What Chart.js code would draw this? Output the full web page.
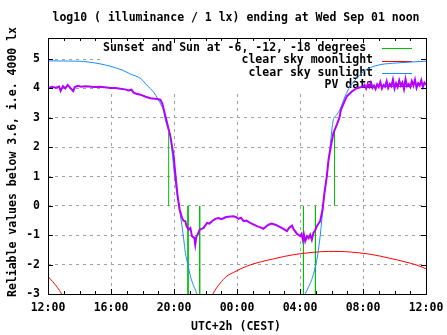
<!DOCTYPE html>
<html lang="en">
<head>
    <meta charset="UTF-8">
    <title>log10 illuminance</title>
    <script src="https://cdn.jsdelivr.net/npm/chart.js"></script>
    <style>
        body { margin: 0; background: #fff; }
        #wrap { width: 447px; height: 335px; }
    </style>
</head>
<body>
    <div id="wrap"><canvas id="myChart" width="447" height="335"></canvas></div>

    <script>
        // x values are hours after 12:00 (Tue noon .. Wed noon)
        const xTickLabels = ['12:00', '16:00', '20:00', '00:00', '04:00', '08:00', '12:00'];
        const seriesNames = ['Sunset and Sun at -6, -12, -18 degrees ', 'clear sky moonlight', 'clear sky sunlight', 'PV data'];

        // green markers: hour, bottom, top
        const sunsetHours = [7.66, 8.89, 9.63, 16.22, 16.98, 18.19];
        const sunsetTops = [2.5, -3, -3, -3, -3, 2.6];

        const sunHours = [0, 1.9, 2.6, 3.3, 4.0, 4.7, 5.2, 5.9, 6.3, 6.7, 7.0, 7.2, 7.34, 7.45, 7.6, 7.77, 7.9, 7.98, 8.1, 8.29, 8.4, 8.51, 8.62, 8.72, 8.88, 9.04, 9.23, 9.42, 9.6,
            12,
            16.1, 16.33, 16.55, 16.75, 17.07, 17.28, 17.49, 17.7, 17.91, 18.12, 18.3, 18.55, 18.85, 19.18, 19.6, 20.03, 20.5, 21.08, 22.14, 23.0, 24];
        const sunValues = [4.94, 4.93, 4.9, 4.84, 4.75, 4.63, 4.5, 4.33, 4.1, 3.88, 3.62, 3.42, 3.25, 2.94, 2.66, 2.37, 1.75, 1.3, 0.75, 0.11, -0.3, -0.69, -1.15, -1.59, -2.0, -2.39, -2.7, -2.95, -3.3,
            null,
            -3.3, -3.0, -2.75, -2.5, -1.83, -1.03, 0.1, 1.0, 2.03, 2.94, 3.08, 3.3, 3.72, 4.07, 4.35, 4.58, 4.72, 4.81, 4.87, 4.9, 4.93];

        const moonHours = [0, 0.3, 0.6, 0.86, 1.1, 5, 10.2, 10.5, 10.9, 11.36, 11.8, 12.2, 13.0, 14.1, 15.0, 15.6, 16.85, 17.8, 18.55, 19.2, 19.8, 20.5, 21.1, 22.1, 23.0, 23.5, 24];
        const moonValues = [-2.41, -2.58, -2.78, -3.0, -3.3, null, -3.3, -2.97, -2.65, -2.39, -2.26, -2.15, -1.98, -1.83, -1.72, -1.66, -1.58, -1.55, -1.55, -1.57, -1.6, -1.65, -1.71, -1.83, -1.95, -2.03, -2.14];

        const pvHours = [0.0, 0.25, 0.5, 0.7, 0.8, 0.95, 1.1, 1.25, 1.4, 1.6, 1.7, 1.9, 2.1, 2.35, 2.6, 2.9, 3.3, 3.6, 3.95, 4.3, 4.6, 4.9, 5.1, 5.3, 5.44, 5.6, 5.87, 6.2, 6.5, 6.92, 7.13, 7.25, 7.34, 7.51, 7.77, 7.98, 8.08, 8.23, 8.36, 8.51, 8.6, 8.72, 8.8, 8.93, 9.04, 9.14, 9.29, 9.35, 9.42, 9.5, 9.63, 9.75, 9.88,
            10.1, 10.25, 10.41, 10.62, 10.83, 11.0, 11.15, 11.3, 11.46, 11.78, 11.95, 12.1, 12.25, 12.42, 12.6, 12.84, 13.0, 13.27, 13.45, 13.68, 13.85, 14.0, 14.2, 14.43, 14.6, 14.74, 14.95, 15.17, 15.3, 15.49, 15.6, 15.69, 15.8,
            16.01, 16.1, 16.18, 16.25, 16.33, 16.44, 16.55, 16.65, 16.75, 16.85, 16.95, 17.07, 17.18, 17.28, 17.43, 17.55, 17.7, 17.81, 17.96, 18.12, 18.34, 18.5, 18.6, 18.97, 19.29, 19.61, 20.03,
            20.1, 20.2, 20.3, 20.4, 20.5, 20.6, 20.7, 20.8, 20.9, 21.0, 21.1, 21.2, 21.3, 21.4, 21.5, 21.6, 21.7, 21.8, 21.9, 22.0, 22.1, 22.2, 22.3, 22.4, 22.5, 22.6, 22.7, 22.8, 22.9, 23.0, 23.1, 23.2, 23.3, 23.4, 23.5, 23.6, 23.7, 23.8, 23.9, 24.0];
        const pvValues = [4.01, 4.06, 4.03, 4.07, 3.92, 4.08, 4.0, 4.12, 4.03, 3.91, 4.05, 4.09, 4.06, 4.08, 4.07, 4.05, 4.06, 4.04, 4.02, 4.02, 3.99, 3.97, 3.93, 3.96, 3.86, 3.82, 3.79, 3.72, 3.67, 3.64, 3.62, 3.5, 3.3, 2.94, 2.37, 1.69, 1.12, 0.33, -0.13, -0.41, -0.5, -0.52, -0.7, -0.81, -0.75, -1.03, -1.09, -1.32, -1.05, -0.98, -0.81, -0.78, -0.75,
            -0.58, -0.6, -0.52, -0.44, -0.41, -0.45, -0.42, -0.38, -0.37, -0.35, -0.38, -0.44, -0.4, -0.52, -0.5, -0.58, -0.62, -0.69, -0.72, -0.78, -0.7, -0.64, -0.6, -0.64, -0.68, -0.72, -0.78, -0.86, -0.75, -0.67, -0.8, -0.86, -0.95,
            -1.03, -0.95, -1.15, -0.98, -1.2, -1.03, -1.1, -0.98, -1.15, -0.92, -0.85, -0.69, -0.6, -0.52, -0.13, 0.44, 1.0, 1.57, 2.03, 2.48, 2.77, 3.0, 3.28, 3.73, 3.9, 4.01, 4.07,
            4.12, 4.0, 4.15, 4.05, 4.2, 4.02, 4.1, 3.98, 4.14, 4.05, 4.22, 4.0, 4.12, 4.06, 4.25, 4.02, 4.15, 4.08, 4.3, 4.0, 4.18, 4.05, 4.28, 4.1, 4.2, 3.98, 4.32, 4.08, 4.15, 4.05, 4.25, 4.1, 4.3, 4.02, 4.18, 4.1, 4.28, 4.05, 4.2, 4.13];

        const colors = ['#00c000', '#ff0000', '#1a8cff', '#b400ff'];
        const font = { family: 'DejaVu Sans Mono', size: 11.5, weight: 'bold' };
        const fontCss = 'bold 11.5px "DejaVu Sans Mono"';

        function toPoints(xs, ys) {
            return xs.map((x, i) => ({ x: x, y: ys[i] }));
        }

        // vertical green lines, separated by gaps
        const sunsetPoints = [];
        sunsetHours.forEach((h, i) => {
            sunsetPoints.push({ x: h, y: 0 }, { x: h, y: sunsetTops[i] }, { x: h, y: null });
        });

        const frame = {
            id: 'frame',
            beforeDatasetsDraw(chart) {
                const ctx = chart.ctx;
                // opaque key box like gnuplot
                ctx.save();
                ctx.fillStyle = '#fff';
                ctx.fillRect(100, 39, 325, 52);
                ctx.font = fontCss;
                ctx.fillStyle = '#000';
                ctx.textAlign = 'right';
                ctx.textBaseline = 'middle';
                const rows = [48, 60.5, 73, 85.5];
                seriesNames.forEach((name, i) => {
                    ctx.fillText(name, 373, rows[i]);
                    ctx.strokeStyle = colors[i];
                    ctx.lineWidth = 1;
                    ctx.beginPath();
                    ctx.moveTo(382, Math.round(rows[i]) + 0.5);
                    ctx.lineTo(412, Math.round(rows[i]) + 0.5);
                    ctx.stroke();
                });
                ctx.restore();
            },
            afterDraw(chart) {
                const ctx = chart.ctx;
                const a = chart.chartArea;
                const xs = chart.scales.x, ys = chart.scales.y;
                ctx.save();
                ctx.strokeStyle = '#000';
                ctx.lineWidth = 1;
                ctx.beginPath();
                // inward ticks every hour, top and bottom
                for (let h = 0; h <= 24; h++) {
                    const px = Math.round(xs.getPixelForValue(h)) + 0.5;
                    const len = h % 4 === 0 ? 5 : 3;
                    ctx.moveTo(px, a.bottom); ctx.lineTo(px, a.bottom - len);
                    ctx.moveTo(px, a.top); ctx.lineTo(px, a.top + len);
                }
                for (let v = -3; v <= 5; v++) {
                    const py = Math.round(ys.getPixelForValue(v)) + 0.5;
                    ctx.moveTo(a.left, py); ctx.lineTo(a.left + 5, py);
                    ctx.moveTo(a.right, py); ctx.lineTo(a.right - 5, py);
                }
                ctx.stroke();
                ctx.strokeRect(Math.round(a.left) + 0.5, Math.round(a.top) + 0.5,
                    Math.round(a.right - a.left), Math.round(a.bottom - a.top));

                ctx.font = fontCss;
                ctx.fillStyle = '#000';
                ctx.textAlign = 'center';
                ctx.textBaseline = 'middle';
                ctx.fillText('log10 ( illuminance / 1 lx) ending at Wed Sep 01 noon', 236, 18.5);
                ctx.fillText('UTC+2h (CEST)', 236, 327);
                ctx.translate(13.5, 162);
                ctx.rotate(-Math.PI / 2);
                ctx.fillText('Reliable values below 3.6, i.e. 4000 lx', 0, 0);
                ctx.restore();
            }
        };

        const ctx = document.getElementById('myChart').getContext('2d');
        const chart = new Chart(ctx, {
            type: 'line',
            data: {
                datasets: [
                    {
                        label: seriesNames[3],
                        data: toPoints(pvHours, pvValues),
                        borderColor: colors[3],
                        borderWidth: 2,
                        pointRadius: 0,
                        tension: 0
                    },
                    {
                        label: seriesNames[2],
                        data: toPoints(sunHours, sunValues),
                        borderColor: colors[2],
                        borderWidth: 1,
                        pointRadius: 0,
                        cubicInterpolationMode: 'monotone'
                    },
                    {
                        label: seriesNames[1],
                        data: toPoints(moonHours, moonValues),
                        borderColor: colors[1],
                        borderWidth: 1,
                        pointRadius: 0,
                        cubicInterpolationMode: 'monotone'
                    },
                    {
                        label: seriesNames[0],
                        data: sunsetPoints,
                        borderColor: colors[0],
                        borderWidth: 1,
                        pointRadius: 0,
                        spanGaps: false
                    }
                ]
            },
            options: {
                responsive: false,
                animation: false,
                layout: { padding: { top: 38, left: 0, right: 21, bottom: 0 } },
                plugins: {
                    legend: { display: false },
                    title: { display: false },
                    tooltip: { enabled: false }
                },
                scales: {
                    x: {
                        type: 'linear',
                        min: 0,
                        max: 24,
                        afterFit: s => { s.height = 41; s.paddingLeft = 0; s.paddingRight = 0; },
                        ticks: {
                            stepSize: 4,
                            autoSkip: false,
                            maxRotation: 0,
                            padding: 7,
                            color: '#000',
                            font: font,
                            callback: (v, i) => xTickLabels[i]
                        },
                        grid: { color: '#a0a0a0', drawTicks: false },
                        border: { display: false, dash: [3, 4] }
                    },
                    y: {
                        min: -3,
                        max: 5.72,
                        afterFit: s => { s.width = 48; s.paddingTop = 0; s.paddingBottom = 0; },
                        afterBuildTicks: s => { s.ticks = s.ticks.filter(t => Number.isInteger(t.value)); },
                        ticks: {
                            stepSize: 1,
                            padding: 8,
                            color: '#000',
                            font: font
                        },
                        grid: { color: '#a0a0a0', drawTicks: false },
                        border: { display: false, dash: [3, 4] }
                    }
                }
            },
            plugins: [frame]
        });
    </script>
</body>
</html>
